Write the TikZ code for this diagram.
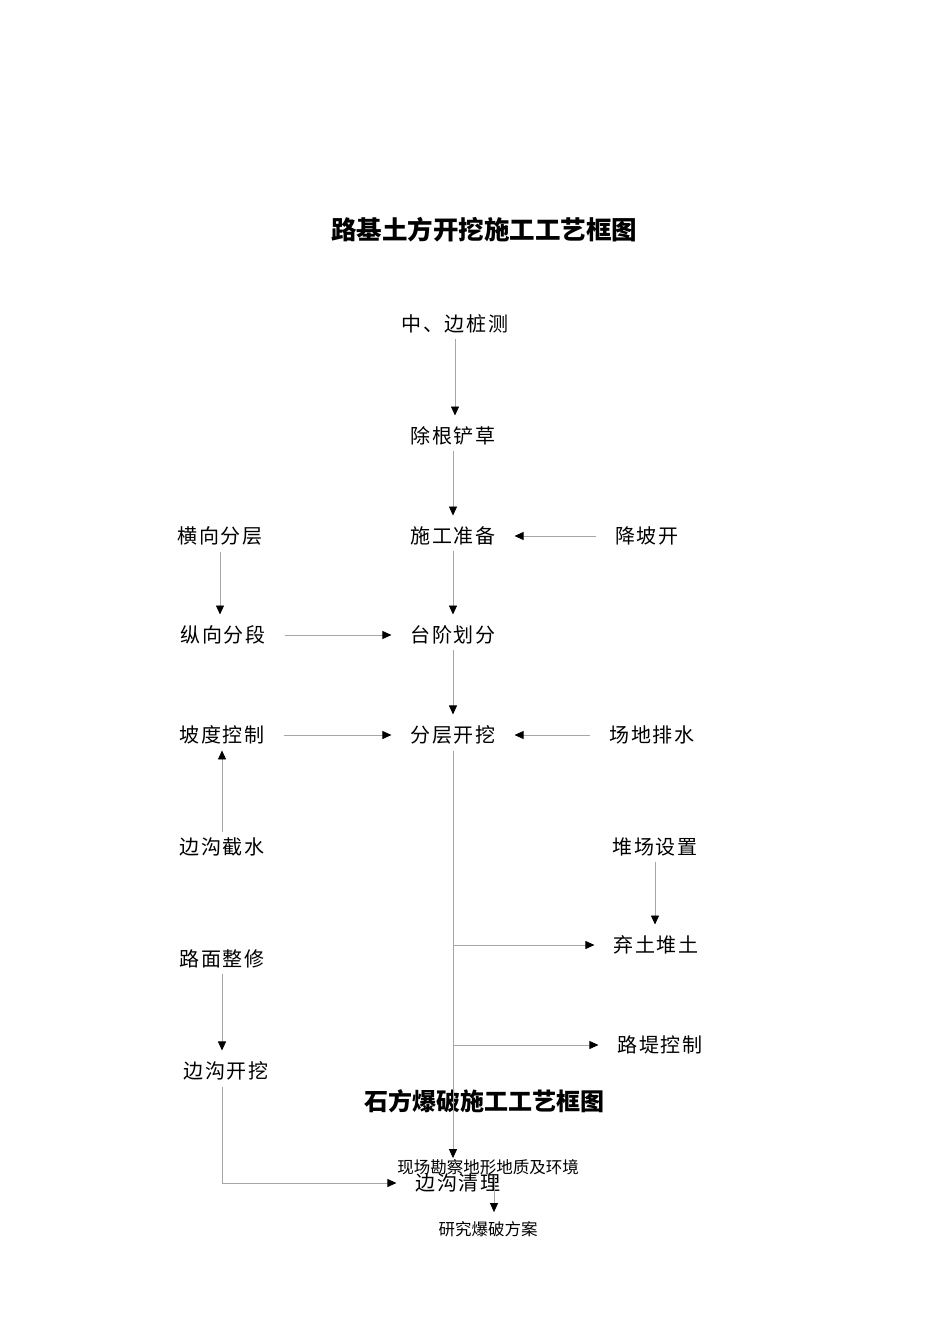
\documentclass[tikz,border=0pt]{standalone}
\usepackage{fontspec}
\setmainfont{Noto Sans CJK SC}
\newfontfamily\cjksp[LetterSpace=8]{Noto Sans CJK SC}
\usetikzlibrary{arrows.meta,positioning}

\begin{document}
\begin{tikzpicture}[x=1pt,y=-1pt,
  stage/.style={inner xsep=19pt,inner ysep=6pt,font=\cjksp\fontsize{20}{24}\selectfont},
  ttl/.style={inner sep=2pt,font=\bfseries\fontsize{25.5}{30}\selectfont},
  note/.style={inner sep=1pt,font=\fontsize{16.5}{19}\selectfont},
  flow/.style={draw=black!35,line width=0.8pt,-{Triangle[length=9pt,width=8pt,color=black]}},
  flowv/.style={flow,shorten >=5pt}]

\fill[white] (0,0) rectangle (950,1344);
\useasboundingbox (0,0) rectangle (950,1344);

\node[ttl] (title1) at (484,230) {路基土方开挖施工工艺框图};

\node[stage] (cezhuang) at (455,324) {中、边桩测};
\node[stage] (chugen)   at (453,436) {除根铲草};
\node[stage] (zhunbei)  at (453,536) {施工准备};
\node[stage] (taijie)   at (453,635) {台阶划分};
\node[stage] (fenceng)  at (453,735) {分层开挖};

\node[stage] (hengxiang) at (220,536) {横向分层};
\node[stage] (zongxiang) at (223,635) {纵向分段};
\node[stage] (podu)      at (222,735) {坡度控制};
\node[stage] (jieshui)   at (222,847) {边沟截水};
\node[stage] (zhengxiu)  at (222,959) {路面整修};
\node[stage] (goukai)    at (226,1071) {边沟开挖};

\node[stage] (jiangpo)  at (647,536) {降坡开};
\node[stage] (paishui)  at (652,735) {场地排水};
\node[stage] (duichang) at (655,847) {堆场设置};
\node[stage] (qitu)     at (656,945) {弃土堆土};
\node[stage] (luti)     at (660,1045) {路堤控制};

\node[ttl,font=\bfseries\fontsize{24}{28}\selectfont] (title2) at (484,1101) {石方爆破施工工艺框图};

\node[note] (kancha) at (488,1167) {现场勘察地形地质及环境};
\node[stage] (gouqing) at (458,1183) {边沟清理};
\node[note] (yanjiu) at (488,1229) {研究爆破方案};

\draw[flowv] (cezhuang.south) -- (cezhuang.south |- chugen.north);
\draw[flowv] (chugen.south) -- (zhunbei.north);
\draw[flowv] (zhunbei.south) -- (taijie.north);
\draw[flowv] (taijie.south) -- (fenceng.north);
\draw[flow] (jiangpo.west) -- (zhunbei.east);

\draw[flowv] (hengxiang.south) -- (hengxiang.south |- zongxiang.north);
\draw[flow] (zongxiang.east) -- (taijie.west);
\draw[flow] (podu.east) -- (fenceng.west);
\draw[flow] (paishui.west) -- (fenceng.east);
\draw[flow] (jieshui.north) -- (jieshui.north |- podu.south);
\draw[flowv] (duichang.south) -- (duichang.south |- qitu.north);

\draw[flow] (fenceng.south) -- (fenceng.south |- kancha.north);
\draw[flow] (fenceng.south |- qitu.west) -- (qitu.west);
\draw[flow] (fenceng.south |- luti.west) -- (luti.west);

\draw[flowv] (zhengxiu.south) -- (zhengxiu.south |- goukai.north);
\draw[flow] (goukai.south -| zhengxiu.south) |- (gouqing.west);
\draw[flowv,shorten >=8pt] ([xshift=6pt]kancha.south) -- ([xshift=6pt]yanjiu.north);
\end{tikzpicture}
\end{document}
